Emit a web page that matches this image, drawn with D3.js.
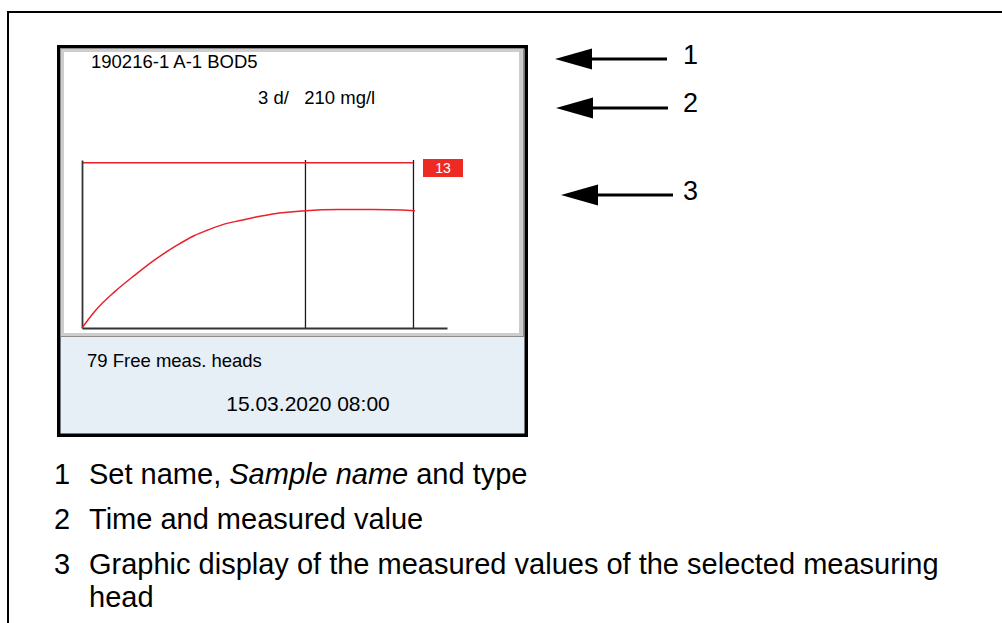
<!DOCTYPE html>
<html>
<head>
<meta charset="utf-8">
<script src="https://cdn.jsdelivr.net/npm/d3@7/dist/d3.min.js"></script>
<style>
  body { margin: 0; background: #fff; }
  svg { display: block; font-family: "Liberation Sans", Arial, sans-serif; }
  text { white-space: pre; }
</style>
</head>
<body>
<div id="chart"></div>
<script>
// Datos de la curva BOD (dias / mg/l)
var days = [0, 0.17, 0.44, 0.71, 0.98, 1.25, 1.51, 1.69, 1.92, 2.12, 2.32, 2.56, 3.0, 3.45, 3.9, 4.47];
var bod  = [0, 30, 66, 96, 124, 148, 168, 178, 189, 195, 201, 207, 213, 215, 215, 213];

var limitValue = 300;          // linea roja superior
var markerDays = [3.0, 4.45];  // lineas verticales
var headCount  = "13";

var setName    = "190216-1 A-1 BOD5";
var valueLine  = "3 d/   210 mg/l";
var freeHeads  = "79 Free meas. heads";
var dateTime   = "15.03.2020 08:00";

var calloutNums = ["1", "2", "3"];
var captions = [
  ["1", [["Set name, ", false], ["Sample name", true], [" and type", false]]],
  ["2", [["Time and measured value", false]]],
  ["3", [["Graphic display of the measured values of the selected measuring", false]]],
  ["",  [["head", false]]]
];

var W = 1002, H = 623;
var red = "#e8212b";

var svg = d3.select("#chart").append("svg")
    .attr("width", W)
    .attr("height", H);

// Marco de la pagina
svg.append("path")
    .attr("d", "M8," + H + "V12H" + W)
    .attr("fill", "none")
    .attr("stroke", "#000")
    .attr("stroke-width", 2);

// Pantalla del equipo
var dev = svg.append("g");
dev.append("rect")
    .attr("x", 58.75).attr("y", 46.75)
    .attr("width", 467.5).attr("height", 388.5)
    .attr("fill", "#e6eef6")
    .attr("stroke", "#000").attr("stroke-width", 3.5);
dev.append("rect")
    .attr("x", 60.5).attr("y", 48.5)
    .attr("width", 463).attr("height", 288)
    .attr("fill", "#cdcdcd")
    .attr("stroke", "#8c8c8c").attr("stroke-width", 1);
dev.append("rect")
    .attr("x", 64).attr("y", 52)
    .attr("width", 455).attr("height", 281)
    .attr("fill", "#fff");

dev.append("text").attr("x", 91).attr("y", 68)
    .attr("font-size", 18.5).text(setName);
dev.append("text").attr("x", 258).attr("y", 104)
    .attr("font-size", 18.5).text(valueLine);
dev.append("text").attr("x", 87).attr("y", 367)
    .attr("font-size", 18.5).text(freeHeads);
dev.append("text").attr("x", 308).attr("y", 411)
    .attr("text-anchor", "middle")
    .attr("font-size", 21).text(dateTime);

// Grafico
var x = d3.scaleLinear().domain([0, 4.9]).range([82, 447]);
var y = d3.scaleLinear().domain([0, 305]).range([328, 160]);

var plot = svg.append("g");

plot.selectAll("line.marker")
    .data(markerDays)
    .enter().append("line")
    .attr("class", "marker")
    .attr("x1", function(d) { return x(d); })
    .attr("x2", function(d) { return x(d); })
    .attr("y1", y(305))
    .attr("y2", y(0))
    .attr("stroke", "#1a1a1a")
    .attr("stroke-width", 1.3);

plot.append("line")
    .attr("x1", x(0)).attr("x2", x(markerDays[1]))
    .attr("y1", y(limitValue)).attr("y2", y(limitValue))
    .attr("stroke", red).attr("stroke-width", 1.5);

plot.append("g")
    .attr("transform", "translate(" + x(0) + ",0)")
    .call(d3.axisLeft(y).tickValues([]).tickSizeOuter(0));
plot.append("g")
    .attr("transform", "translate(0," + y(0) + ")")
    .call(d3.axisBottom(x).tickValues([]).tickSizeOuter(0));
plot.selectAll(".domain")
    .attr("stroke", "#333")
    .attr("stroke-width", 1.8);

var pts = days.map(function(d, i) { return [d, bod[i]]; });
var line = d3.line()
    .x(function(d) { return x(d[0]); })
    .y(function(d) { return y(d[1]); })
    .curve(d3.curveMonotoneX);
plot.append("path")
    .datum(pts)
    .attr("d", line)
    .attr("fill", "none")
    .attr("stroke", red)
    .attr("stroke-width", 1.5);

// Etiqueta del cabezal
plot.append("rect")
    .attr("x", 423).attr("y", 159)
    .attr("width", 40).attr("height", 18)
    .attr("fill", "#ee2a24");
plot.append("text")
    .attr("x", 443).attr("y", 173)
    .attr("text-anchor", "middle")
    .attr("font-size", 14)
    .attr("fill", "#fff")
    .text(headCount);

// Flechas de referencia
var arrowPos = [{tip: 555, cy: 59, end: 667, ty: 64},
                {tip: 556, cy: 108, end: 668, ty: 112},
                {tip: 561, cy: 195, end: 673, ty: 200}];
var arrows = svg.selectAll("g.arrow")
    .data(calloutNums)
    .enter().append("g")
    .attr("class", "arrow");
arrows.append("path")
    .attr("d", function(d, i) {
        var a = arrowPos[i];
        return "M" + a.tip + "," + a.cy + "L" + (a.tip + 37) + "," + (a.cy - 10.5) +
               "V" + (a.cy + 10.5) + "Z";
    })
    .attr("fill", "#000");
arrows.append("line")
    .attr("x1", function(d, i) { return arrowPos[i].tip + 36; })
    .attr("x2", function(d, i) { return arrowPos[i].end; })
    .attr("y1", function(d, i) { return arrowPos[i].cy; })
    .attr("y2", function(d, i) { return arrowPos[i].cy; })
    .attr("stroke", "#000").attr("stroke-width", 3);
arrows.append("text")
    .attr("x", 683)
    .attr("y", function(d, i) { return arrowPos[i].ty; })
    .attr("font-size", 27)
    .text(function(d) { return d; });

// Leyenda inferior
var capY = [484, 529, 574, 607];
var caps = svg.selectAll("g.cap")
    .data(captions)
    .enter().append("g")
    .attr("class", "cap")
    .attr("font-size", 29);
caps.append("text")
    .attr("x", 54)
    .attr("y", function(d, i) { return capY[i]; })
    .text(function(d) { return d[0]; });
caps.append("text")
    .attr("x", 89)
    .attr("y", function(d, i) { return capY[i]; })
    .each(function(d) {
        var t = d3.select(this);
        d[1].forEach(function(p) {
            t.append("tspan")
                .attr("font-style", p[1] ? "italic" : "normal")
                .text(p[0]);
        });
    });
</script>
</body>
</html>
